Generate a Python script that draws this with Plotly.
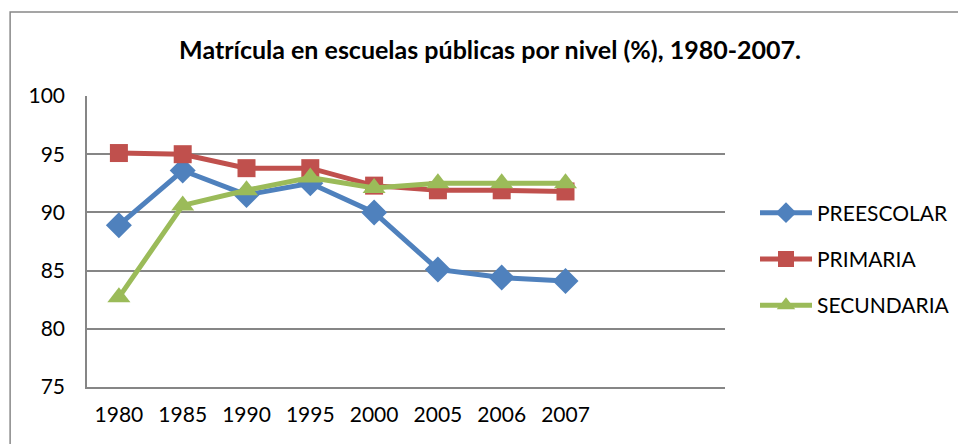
import plotly.graph_objects as go

years = ["1980", "1985", "1990", "1995", "2000", "2005", "2006", "2007"]
preescolar = [88.9, 93.6, 91.5, 92.5, 90.0, 85.1, 84.4, 84.1]
primaria = [95.1, 95.0, 93.8, 93.8, 92.3, 91.9, 91.9, 91.8]
secundaria = [82.7, 90.6, 91.9, 93.0, 92.1, 92.5, 92.5, 92.5]

series = [
    ("PREESCOLAR", preescolar, "#4F81BD", "diamond", 20),
    ("PRIMARIA", primaria, "#C0504D", "square", 18),
    ("SECUNDARIA", secundaria, "#9BBB59", "triangle-up", 20),
]

FONT = "Lato"
xpos = list(range(len(years)))

fig = go.Figure()
for i, (name, vals, color, sym, size) in enumerate(series):
    fig.add_trace(go.Scatter(
        x=xpos, y=vals, name=name, mode="lines+markers",
        line=dict(color=color, width=5),
        marker=dict(symbol=sym, size=size, color=color),
        legendgroup=f"g{i}",
    ))

# page body adds an 8px offset
OFF = 8
W, H = 966 - OFF, 444 - OFF
L, T = 87 - OFF, 96 - OFF
R = W - (726 - OFF)
B = H - (387 - OFF)
pw, ph = W - L - R, H - T - B


def px2x(px):
    return (px - OFF - L) / pw


def py2y(py):
    return (H - B - (py - OFF)) / ph


fig.update_layout(
    width=W, height=H,
    margin=dict(l=L, r=R, t=T, b=B),
    paper_bgcolor="white", plot_bgcolor="white",
    font=dict(family=FONT, size=21, color="#000000"),
    title=dict(
        text="<b>Matrícula en escuelas públicas por nivel (%), 1980-2007.</b>",
        x=(490 - OFF) / W, xanchor="center", xref="container",
        y=1 - (50 - OFF) / H, yanchor="middle",
        font=dict(family=FONT, size=25, color="#000000"),
    ),
    showlegend=True,
    legend=dict(
        x=px2x(755), xanchor="left",
        y=py2y(259), yanchor="middle",
        font=dict(family=FONT, size=21, color="#000000"),
        tracegroupgap=16, itemwidth=52,
        bgcolor="rgba(0,0,0,0)",
    ),
    xaxis=dict(
        range=[-0.5, 9.5], tickmode="array", tickvals=xpos, ticktext=years,
        showgrid=False, zeroline=False, showline=True, linecolor="#868686",
        linewidth=1.5, ticks="", ticklabelstandoff=8,
        tickfont=dict(family=FONT, size=21),
    ),
    yaxis=dict(
        range=[75, 100], tickvals=[75, 80, 85, 90, 95, 100],
        showgrid=True, gridcolor="#868686", gridwidth=1.5,
        zeroline=False, showline=True, linecolor="#868686", linewidth=1.5,
        mirror=False, ticks="", ticklabelstandoff=16,
        tickfont=dict(family=FONT, size=21),
    ),
    shapes=[
        dict(type="rect", xref="paper", yref="paper",
             x0=px2x(10), x1=1.6, y0=-0.4, y1=py2y(12),
             line=dict(color="#888888", width=1.5), fillcolor="rgba(0,0,0,0)",
             layer="below"),
    ],
)

fig.write_html("out.html")
